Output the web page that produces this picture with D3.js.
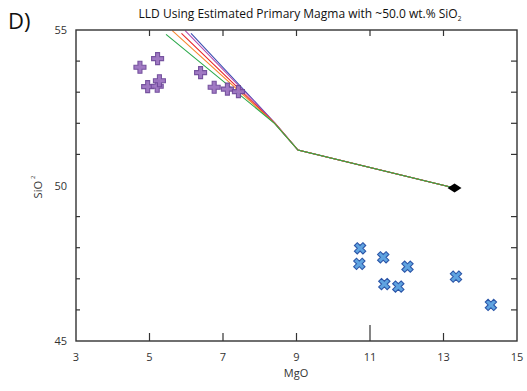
<!DOCTYPE html>
<html><head><meta charset="utf-8">
<script src="https://cdn.jsdelivr.net/npm/d3@7"></script>
<style>body{margin:0;background:#fff}svg{font-family:"Open Sans","Noto Sans",sans-serif}</style>
</head><body><svg id="c" width="527" height="391"></svg>
<script>
const xTicks=[3,5,7,9,11,13,15];
const yTickLabels=[45,50,55];
const yMinor=[46,47,48,49,51,52,53,54];
const lldColors=["#2aa84a","#f7882f","#e8262a","#b24fb4","#3b4fb0"];
const lldLines=[
 [[5.45,54.86],[8.4,52.0],[9.04,51.14],[13.3,49.92]],
 [[5.62,54.98],[8.42,51.98],[9.04,51.14],[13.3,49.92]],
 [[5.87,54.89],[8.42,51.99],[9.04,51.14],[13.3,49.92]],
 [[5.97,54.98],[8.42,52.0],[9.04,51.14],[13.3,49.92]],
 [[6.13,54.89],[8.42,52.0],[9.04,51.14],[13.3,49.92]]
];
const primary=[[13.3,49.92]];
const purpleMgO=[4.74,5.22,4.95,5.21,5.27,6.39,6.76,7.12,7.42];
const purpleSiO2=[53.80,54.08,53.18,53.19,53.37,53.63,53.16,53.10,53.02];
const blueMgO=[10.73,10.71,11.36,12.02,11.39,11.77,13.34,14.29];
const blueSiO2=[47.98,47.48,47.69,47.39,46.83,46.75,47.07,46.16];

const svg=d3.select("#c");
const L=76,R=517,T=30,B=341;
const x=d3.scaleLinear().domain([3,15]).range([L,R]);
const y=d3.scaleLinear().domain([45,55]).range([B,T]);
const ax="#333";

const line=d3.line().x(d=>x(d[0])).y(d=>y(d[1]));
svg.append("clipPath").attr("id","cp").append("rect").attr("x",L).attr("y",T).attr("width",R-L).attr("height",B-T);
const g=svg.append("g").attr("clip-path","url(#cp)");
lldLines.slice().reverse().forEach((pts,i)=>{
  g.append("path").attr("d",line(pts)).attr("fill","none")
   .attr("stroke",lldColors[lldLines.length-1-i]).attr("stroke-width",1.1);
});

const plus="M-2,-6H2V-2H6V2H2V6H-2V2H-6V-2H-2Z";
purpleMgO.forEach((m,i)=>{
  svg.append("path").attr("d",plus).attr("transform",`translate(${x(m)},${y(purpleSiO2[i])})`)
   .attr("fill","#9b72c0").attr("stroke","#6f4a9a").attr("stroke-width",1.1).attr("opacity",0.95);
});
blueMgO.forEach((m,i)=>{
  svg.append("path").attr("d",plus).attr("transform",`translate(${x(m)},${y(blueSiO2[i])}) rotate(45)`)
   .attr("fill","#5fa3e0").attr("stroke","#2c56a8").attr("stroke-width",1.1);
});
primary.forEach(p=>{
  svg.append("path").attr("d","M-7,0L0,-4.5L7,0L0,4.5Z").attr("transform",`translate(${x(p[0])},${y(p[1])})`).attr("fill","#000");
});

svg.append("rect").attr("x",L).attr("y",T).attr("width",R-L).attr("height",B-T).attr("fill","none").attr("stroke",ax).attr("stroke-width",1.4);

xTicks.slice(1,-1).forEach(t=>{
  const len=t===11?16:8;
  svg.append("line").attr("x1",x(t)).attr("x2",x(t)).attr("y1",B).attr("y2",B-len).attr("stroke",ax).attr("stroke-width",1.2);
  svg.append("line").attr("x1",x(t)).attr("x2",x(t)).attr("y1",T).attr("y2",T+6).attr("stroke",ax).attr("stroke-width",1.2);
});
xTicks.forEach(t=>{
  svg.append("text").attr("x",x(t)).attr("y",B+20).attr("text-anchor","middle").attr("font-size",11).attr("fill","#333").text(t);
});
yMinor.forEach(t=>{
  svg.append("line").attr("x1",L).attr("x2",L+4).attr("y1",y(t)).attr("y2",y(t)).attr("stroke",ax).attr("stroke-width",1.2);
  svg.append("line").attr("x1",R).attr("x2",R-6).attr("y1",y(t)).attr("y2",y(t)).attr("stroke",ax).attr("stroke-width",1.2);
});
yTickLabels.forEach(t=>{
  svg.append("text").attr("x",L-9).attr("y",y(t)+4).attr("text-anchor","end").attr("font-size",11).attr("fill","#333").text(t);
});

svg.append("text").attr("x",296).attr("y",377).attr("text-anchor","middle").attr("font-size",11).attr("fill","#333").text("MgO");
const yl=svg.append("text").attr("transform","translate(42,187) rotate(-90)").attr("text-anchor","middle").attr("font-size",11).attr("fill","#333");
yl.append("tspan").text("SiO");
yl.append("tspan").attr("font-size",6).attr("dx",2).attr("dy",-7).text("2");
const tt=svg.append("text").attr("x",300).attr("y",18).attr("text-anchor","middle").attr("font-size",12).attr("fill","#111");
tt.append("tspan").text("LLD Using Estimated Primary Magma with ~50.0 wt.% SiO");
tt.append("tspan").attr("font-size",6.5).attr("dy",3).text("2");
svg.append("text").attr("x",8).attr("y",29).attr("font-size",22).attr("fill","#111").text("D)");
</script></body></html>
